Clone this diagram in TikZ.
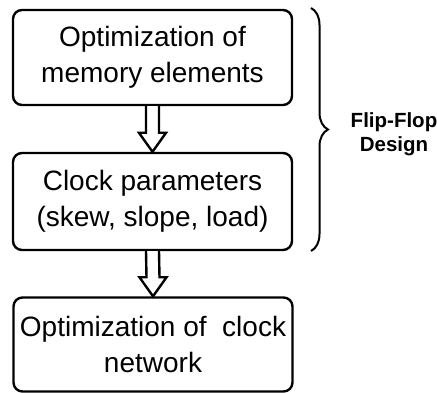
\documentclass[tikz,border=0pt]{standalone}
\usepackage{fontspec}
\setmainfont{Liberation Sans}
\usetikzlibrary{calc,decorations.pathreplacing}
\tikzset{
  procbox/.style={draw, line width=2.4pt, rounded corners=9pt, minimum width=279pt,
    align=center, inner sep=0pt, font=\fontsize{28}{36}\selectfont},
  hollow/.style={draw, line width=2.4pt, line join=miter, fill=white},
  bracestyle/.style={draw, line width=2pt, decorate, decoration={brace, amplitude=17pt}},
  sidelabel/.style={align=center, font=\fontsize{20.5}{24}\selectfont\bfseries}
}
\newcommand{\hollowarrow}[2]{%
  \path[hollow] ($(#1.south)+(-6.5pt,0)$) -- ($(#2.north)+(-6.5pt,19pt)$)
    -- ($(#2.north)+(-13.5pt,19pt)$) -- (#2.north) -- ($(#2.north)+(13.5pt,19pt)$)
    -- ($(#2.north)+(6.5pt,19pt)$) -- ($(#1.south)+(6.5pt,0)$);}
\begin{document}
\begin{tikzpicture}[x=1pt,y=1pt]
\useasboundingbox (0,0) rectangle (437,-393);
\node[procbox, minimum height=95pt] (b1) at (152.5,-57.5) {Optimization of\\memory elements};
\node[procbox, minimum height=97pt] (b2) at (152.5,-201.5) {Clock parameters\\(skew, slope, load)};
\node[procbox, minimum height=94pt] (b3) at (153,-344.5) {Optimization of~~clock\\network};
\hollowarrow{b1}{b2}
\hollowarrow{b2}{b3}
\coordinate (bt) at (311,-8);
\coordinate (bb) at (311,-251);
\draw[bracestyle] (bt) -- (bb);
\node[sidelabel] (ff) at (394,-134) {Flip-Flop\\Design};
\end{tikzpicture}
\end{document}
